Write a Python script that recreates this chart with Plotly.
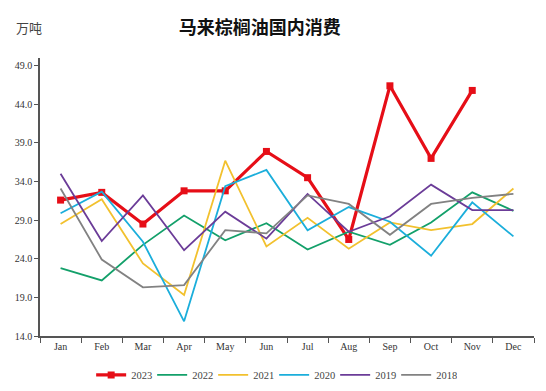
import plotly.graph_objects as go

months = ["Jan", "Feb", "Mar", "Apr", "May", "Jun", "Jul", "Aug", "Sep", "Oct", "Nov", "Dec"]
y2023 = [31.6, 32.6, 28.5, 32.8, 32.8, 37.9, 34.5, 26.5, 46.4, 37.0, 45.8, None]
y2022 = [22.8, 21.2, 25.8, 29.6, 26.4, 28.6, 25.2, 27.5, 25.8, 28.7, 32.6, 30.2]
y2021 = [28.5, 31.7, 23.4, 19.3, 36.7, 25.6, 29.3, 25.3, 28.7, 27.7, 28.5, 33.1]
y2020 = [29.9, 32.7, 26.2, 15.9, 33.4, 35.5, 27.7, 30.7, 28.8, 24.4, 31.3, 26.9]
y2019 = [35.0, 26.3, 32.2, 25.1, 30.1, 26.6, 32.4, 27.5, 29.5, 33.6, 30.3, 30.3]
y2018 = [33.1, 23.9, 20.3, 20.6, 27.7, 27.3, 32.2, 31.1, 27.1, 31.1, 31.9, 32.4]
y_ticks = [14.0, 19.0, 24.0, 29.0, 34.0, 39.0, 44.0, 49.0]

series = [
    ("2023", y2023, "#E60E17", 3.2, True),
    ("2022", y2022, "#13A06A", 1.8, False),
    ("2021", y2021, "#F2C12E", 1.8, False),
    ("2020", y2020, "#1BAEDB", 1.8, False),
    ("2019", y2019, "#6B3C98", 1.8, False),
    ("2018", y2018, "#828282", 1.8, False),
]

fig = go.Figure()
for name, vals, color, w, mk in series:
    fig.add_trace(go.Scatter(
        x=months, y=vals, name=name, mode="lines+markers" if mk else "lines",
        line=dict(color=color, width=w),
        marker=dict(symbol="square", size=7, color=color) if mk else None,
        connectgaps=False,
    ))

serif = "Liberation Serif, Times New Roman, serif"
fig.update_layout(
    width=538, height=400,
    margin=dict(l=32, r=12, t=50, b=72),
    paper_bgcolor="white", plot_bgcolor="white",
    font=dict(family=serif, size=11, color="#333333"),
    title=dict(text="<b>马来棕榈油国内消费</b>", x=0.468, xanchor="center", y=1 - 20 / 400, yanchor="middle",
               font=dict(family="Noto Sans CJK SC", size=18, color="#111111")),
    showlegend=True,
    legend=dict(orientation="h", x=0.474, xanchor="center", y=-0.14, yanchor="middle",
                font=dict(family=serif, size=10.5, color="#444444"),
                entrywidth=16, entrywidthmode="pixels", tracegroupgap=0),
    annotations=[dict(text="万吨", xref="paper", yref="paper", x=-0.053, y=1.108,
                      xanchor="left", yanchor="middle", showarrow=False,
                      font=dict(family="Noto Sans CJK SC", size=13, color="#444444"))],
)
fig.update_xaxes(
    type="category", showline=True, linecolor="#555555", linewidth=1.5,
    ticks="outside", ticklen=5, tickcolor="#555555", tickson="boundaries",
    showgrid=False, tickfont=dict(family=serif, size=10, color="#333333"),
    range=[-0.5, 11.5], automargin=False,
)
fig.update_yaxes(
    range=[14, 50], tickvals=y_ticks, tickformat=".1f",
    showline=True, linecolor="#555555", linewidth=1.5,
    ticks="outside", ticklen=4, tickcolor="#555555", automargin=False,
    showgrid=False, zeroline=False, tickfont=dict(family=serif, size=10, color="#333333"),
)
fig.write_html("out.html")
